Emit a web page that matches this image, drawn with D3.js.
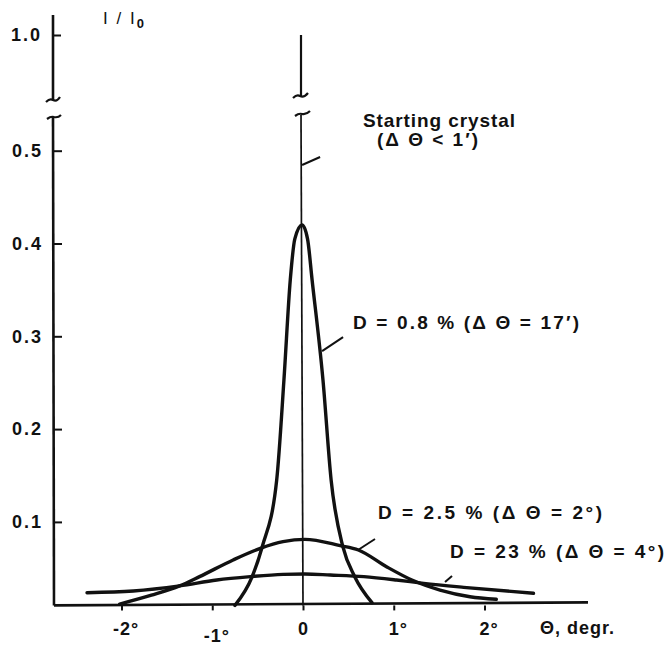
<!DOCTYPE html>
<html>
<head>
<meta charset="utf-8">
<script src="https://cdn.jsdelivr.net/npm/d3@7"></script>
<style>
  html, body { margin: 0; padding: 0; background: #fff; }
  svg text { font-family: "Liberation Sans", Arial, sans-serif; font-weight: bold; fill: #111; }
</style>
</head>
<body>
<svg id="chart" width="668" height="645"></svg>
<script>
// ---------- data ----------
const xTickValues = [-2, -1, 0, 1, 2];
const xTickLabels = ["-2°", "-1°", "0", "1°", "2°"];
const yTickValuesLower = [0.1, 0.2, 0.3, 0.4, 0.5];
const yTickLabelsLower = ["0.1", "0.2", "0.3", "0.4", "0.5"];
const yTickValuesUpper = [1.0];
const yTickLabelsUpper = ["1.0"];

// D = 0.8 % (ΔΘ = 17')
const theta08 = [-0.75, -0.56, -0.45, -0.29, -0.21, -0.14, -0.09, -0.01, 0.05, 0.10, 0.22, 0.31, 0.44, 0.57, 0.76];
const int08   = [0.010, 0.041, 0.073, 0.145, 0.253, 0.361, 0.405, 0.420, 0.405, 0.361, 0.253, 0.145, 0.073, 0.041, 0.013];
// D = 2.5 % (ΔΘ = 2°)
const theta25 = [-2.02, -1.67, -1.36, -1.14, -0.77, -0.47, -0.22, 0.02, 0.41, 0.61, 0.92, 1.20, 1.51, 1.84, 2.13];
const int25   = [0.0115, 0.021, 0.031, 0.041, 0.059, 0.0715, 0.0787, 0.0812, 0.0744, 0.0697, 0.0517, 0.0374, 0.0266, 0.0194, 0.0166];
// D = 23 % (ΔΘ = 4°)
const theta23 = [-2.38, -1.87, -1.36, -0.95, -0.58, -0.22, 0.02, 0.30, 0.67, 1.03, 1.33, 1.77, 2.54];
const int23   = [0.0237, 0.0255, 0.031, 0.0374, 0.041, 0.0435, 0.0439, 0.0428, 0.041, 0.0374, 0.0338, 0.0295, 0.0231];

const labels = {
  start1: "Starting crystal",
  start2: "(Δ Θ < 1′)",
  d08: "D = 0.8 %  (Δ Θ = 17′)",
  d25: "D = 2.5 %  (Δ Θ = 2°)",
  d23: "D = 23 %  (Δ Θ = 4°)",
  xTitle: "Θ, degr."
};

// ---------- scales ----------
const svg = d3.select("#chart");
const x = d3.scaleLinear().domain([0, 1]).range([303, 393.75]);
const y = d3.scaleLinear().domain([0, 0.5]).range([614.7, 150.7]);
const yTop = d3.scaleLinear().domain([0.85, 1.0]).range([100, 35]);
const axisX0 = 54;
const baseVal = 0.01;            // x axis drawn slightly above zero
const yBase = y(baseVal);

const ink = "#111";
const FONT = '"Liberation Sans", Arial, sans-serif';

// ---------- y axis (broken) ----------
const gY = svg.append("g");
gY.append("line").attr("x1", axisX0 - 1).attr("x2", axisX0 - 1).attr("y1", 15).attr("y2", 100)
  .attr("stroke", ink).attr("stroke-width", 2.6);
gY.append("path").attr("d", `M${axisX0-8},102 q4,-4 7,-2 q4,2 7,-3`)
  .attr("fill", "none").attr("stroke", ink).attr("stroke-width", 2.2);
gY.append("line").attr("x1", axisX0 - 1).attr("x2", axisX0).attr("y1", 117).attr("y2", yBase)
  .attr("stroke", ink).attr("stroke-width", 2.6);
gY.append("path").attr("d", `M${axisX0-7},119 q4,-3 7,-2 q4,1 7,-2`)
  .attr("fill", "none").attr("stroke", ink).attr("stroke-width", 2.2);

function styleTicks(g, size, spacing) {
  g.select(".domain").remove();
  g.selectAll(".tick line").attr("stroke", ink).attr("stroke-width", 2);
  g.selectAll(".tick text").style("font-size", size + "px").style("letter-spacing", spacing + "px")
    .style("font-family", FONT).style("font-weight", "bold").attr("fill", ink);
}

const axisLower = d3.axisLeft(y).tickValues(yTickValuesLower)
  .tickFormat((d, i) => yTickLabelsLower[i]).tickSizeInner(-8).tickSizeOuter(0).tickPadding(11);
const gAL = svg.append("g").attr("transform", `translate(${axisX0},0)`).call(axisLower);
styleTicks(gAL, 18, 2);

const axisUpper = d3.axisLeft(yTop).tickValues(yTickValuesUpper)
  .tickFormat((d, i) => yTickLabelsUpper[i]).tickSizeInner(-8).tickSizeOuter(0).tickPadding(11);
const gAU = svg.append("g").attr("transform", `translate(${axisX0-1},0)`).call(axisUpper);
styleTicks(gAU, 18, 2);

// y title
const yTitle = svg.append("text").attr("x", 103).attr("y", 24).style("font-size", "17px")
  .style("font-weight", "normal").style("letter-spacing", "2px");
yTitle.append("tspan").text("I / I");
yTitle.append("tspan").attr("dy", 4).style("font-size", "13px").style("font-weight", "bold").text("0");

// ---------- x axis ----------
svg.append("line").attr("x1", axisX0).attr("x2", 588).attr("y1", yBase).attr("y2", yBase - 3)
  .attr("stroke", ink).attr("stroke-width", 2.6);
const axisBottom = d3.axisBottom(x).tickValues(xTickValues)
  .tickFormat((d, i) => xTickLabels[i]).tickSizeInner(5).tickSizeOuter(0).tickPadding(12);
const gX = svg.append("g").attr("transform", `translate(0,${yBase})`).call(axisBottom);
styleTicks(gX, 18, 1);
gX.selectAll(".tick text")
  .attr("dx", (d) => d === 0 ? 0 : 4)
  .attr("dy", (d) => d === -1 ? "1.1em" : "0.71em");
svg.append("text").attr("x", 540).attr("y", 634).style("font-size", "18px").style("letter-spacing", "1px")
  .text(labels.xTitle);

// ---------- centre line (broken) ----------
const gC = svg.append("g");
gC.append("line").attr("x1", x(0) - 2).attr("x2", x(0) - 2).attr("y1", yTop(1.0)).attr("y2", 96)
  .attr("stroke", ink).attr("stroke-width", 2.2);
gC.append("path").attr("d", `M${x(0)-10},98 q4,-4 7,-2 q4,2 8,-3`)
  .attr("fill", "none").attr("stroke", ink).attr("stroke-width", 2.2);
gC.append("line").attr("x1", x(0) - 2).attr("x2", x(0)).attr("y1", 115).attr("y2", yBase)
  .attr("stroke", ink).attr("stroke-width", 1.7);
gC.append("path").attr("d", `M${x(0)-8},116 q4,-3 7,-2 q4,1 8,-3`)
  .attr("fill", "none").attr("stroke", ink).attr("stroke-width", 2.2);

// ---------- curves ----------
const line = d3.line().x(d => x(d[0])).y(d => y(d[1])).curve(d3.curveMonotoneX);
const series = [
  [theta08, int08],
  [theta25, int25],
  [theta23, int23]
];
series.forEach(([t, v]) => {
  svg.append("path").datum(t.map((tt, i) => [tt, v[i]]))
    .attr("d", line).attr("fill", "none").attr("stroke", ink)
    .attr("stroke-width", 3.4).attr("stroke-linejoin", "round").attr("stroke-linecap", "round");
});

// ---------- annotations ----------
function pointer(xv, yv, dx, dy) {
  svg.append("line").attr("x1", x(xv)).attr("y1", y(yv)).attr("x2", x(xv) + dx).attr("y2", y(yv) + dy)
    .attr("stroke", ink).attr("stroke-width", 2);
}
pointer(-0.01, 0.4846, 18, -8);
pointer(0.21, 0.284, 21, -14);
pointer(0.606, 0.0697, 17, -11);
pointer(1.565, 0.0352, 7, -6);

function label(txt, xp, yp, len) {
  svg.append("text").attr("x", xp).attr("y", yp).style("font-size", "19px")
    .attr("textLength", len).attr("lengthAdjust", "spacing").text(txt);
}
label(labels.start1, 363, 127, 152);
label(labels.start2, 377, 146, 101);
label(labels.d08, 353, 329, 226);
label(labels.d25, 378, 519, 224);
label(labels.d23, 450, 558, 214);
</script>
</body>
</html>
